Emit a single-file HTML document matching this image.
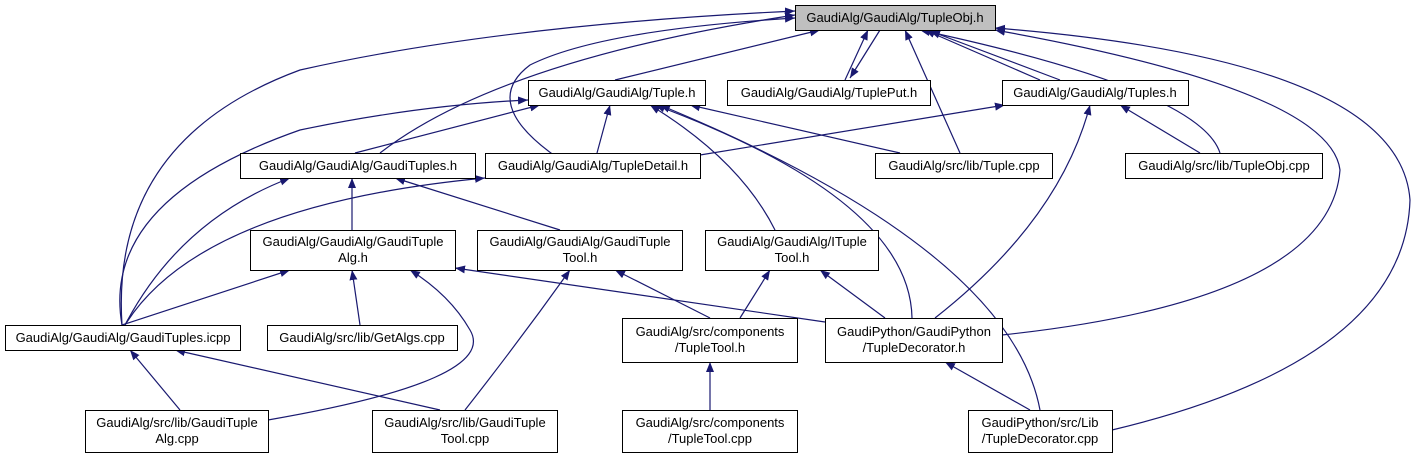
<!DOCTYPE html>
<html><head><meta charset="utf-8"><style>
html,body{margin:0;padding:0;background:#fff;}
svg{display:block;}
text{font-family:"Liberation Sans",sans-serif;font-size:13px;fill:#000;}
</style></head><body>
<svg width="1415" height="459" viewBox="0 0 1415 459" xmlns="http://www.w3.org/2000/svg">
<defs><marker id="a" viewBox="0 0 10 10" refX="10" refY="5" markerWidth="10" markerHeight="10" markerUnits="userSpaceOnUse" orient="auto"><path d="M0,1 L10,5 L0,9 z" fill="#191970"/></marker></defs>
<g fill="none" stroke="#191970" stroke-width="1.2" marker-end="url(#a)">
<path d="M615,80 L820,30"/>
<path d="M845,80 L868,30"/>
<path d="M880,30 L850,78"/>
<path d="M1040,80 L925,30"/>
<path d="M1060,80 L930,31"/>
<path d="M380,153 Q500,60 795,15"/>
<path d="M590,178 Q470,110 530,65 Q600,30 795,18"/>
<path d="M122,325 Q110,140 300,70 Q500,25 795,11"/>
<path d="M960,153 L905,30"/>
<path d="M1220,153 Q1200,90 920,30"/>
<path d="M1002,335 Q1330,300 1340,170 Q1330,90 995,30"/>
<path d="M1112,430 Q1405,360 1410,200 Q1400,60 995,28"/>
<path d="M355,153 L540,105"/>
<path d="M597,153 L610,105"/>
<path d="M122,325 Q100,200 300,130 Q420,105 528,100"/>
<path d="M900,153 L690,105"/>
<path d="M775,230 Q740,160 650,105"/>
<path d="M912,318 Q910,200 655,105"/>
<path d="M1040,410 Q1010,250 660,105"/>
<path d="M700,155 L1005,105"/>
<path d="M1200,153 L1120,105"/>
<path d="M935,318 Q1060,220 1090,105"/>
<path d="M352,230 L352,178"/>
<path d="M560,230 L395,178"/>
<path d="M125,325 Q180,220 290,178"/>
<path d="M125,325 Q200,205 485,178"/>
<path d="M122,325 L290,270"/>
<path d="M360,325 L352,270"/>
<path d="M268,420 Q500,380 470,330 Q450,295 410,270"/>
<path d="M825,322 L455,268"/>
<path d="M465,410 Q520,340 570,270"/>
<path d="M710,318 L615,270"/>
<path d="M740,318 L770,270"/>
<path d="M885,318 L820,270"/>
<path d="M180,410 L130,350"/>
<path d="M440,410 L175,350"/>
<path d="M710,410 L710,362"/>
<path d="M1030,410 L945,362"/>
</g>
<g stroke="#000" stroke-width="1" fill="#fff">
<rect x="795.5" y="5.5" width="200" height="25" fill="#bfbfbf"/>
<rect x="528.5" y="80.5" width="177" height="25"/>
<rect x="727.5" y="80.5" width="203" height="25"/>
<rect x="1002.5" y="80.5" width="186" height="25"/>
<rect x="240.5" y="153.5" width="235" height="25"/>
<rect x="485.5" y="153.5" width="215" height="25"/>
<rect x="875.5" y="153.5" width="177" height="25"/>
<rect x="1125.5" y="153.5" width="197" height="25"/>
<rect x="250.5" y="230.5" width="205" height="40"/>
<rect x="477.5" y="230.5" width="205" height="40"/>
<rect x="705.5" y="230.5" width="173" height="40"/>
<rect x="5.5" y="325.5" width="235" height="25"/>
<rect x="267.5" y="325.5" width="190" height="25"/>
<rect x="622.5" y="318.5" width="175" height="44"/>
<rect x="825.5" y="318.5" width="177" height="44"/>
<rect x="85.5" y="410.5" width="183" height="42"/>
<rect x="372.5" y="410.5" width="185" height="42"/>
<rect x="622.5" y="410.5" width="175" height="42"/>
<rect x="968.5" y="410.5" width="144" height="42"/>
</g>
<g text-anchor="middle">
<text x="895" y="22">GaudiAlg/GaudiAlg/TupleObj.h</text>
<text x="617" y="97">GaudiAlg/GaudiAlg/Tuple.h</text>
<text x="829" y="97">GaudiAlg/GaudiAlg/TuplePut.h</text>
<text x="1095" y="97">GaudiAlg/GaudiAlg/Tuples.h</text>
<text x="358" y="170">GaudiAlg/GaudiAlg/GaudiTuples.h</text>
<text x="593" y="170">GaudiAlg/GaudiAlg/TupleDetail.h</text>
<text x="964" y="170">GaudiAlg/src/lib/Tuple.cpp</text>
<text x="1224" y="170">GaudiAlg/src/lib/TupleObj.cpp</text>
<text x="353" y="246">GaudiAlg/GaudiAlg/GaudiTuple</text><text x="353" y="262">Alg.h</text>
<text x="580" y="246">GaudiAlg/GaudiAlg/GaudiTuple</text><text x="580" y="262">Tool.h</text>
<text x="792" y="246">GaudiAlg/GaudiAlg/ITuple</text><text x="792" y="262">Tool.h</text>
<text x="123" y="342">GaudiAlg/GaudiAlg/GaudiTuples.icpp</text>
<text x="362" y="342">GaudiAlg/src/lib/GetAlgs.cpp</text>
<text x="710" y="336">GaudiAlg/src/components</text><text x="710" y="352">/TupleTool.h</text>
<text x="914" y="336">GaudiPython/GaudiPython</text><text x="914" y="352">/TupleDecorator.h</text>
<text x="177" y="427">GaudiAlg/src/lib/GaudiTuple</text><text x="177" y="443">Alg.cpp</text>
<text x="465" y="427">GaudiAlg/src/lib/GaudiTuple</text><text x="465" y="443">Tool.cpp</text>
<text x="710" y="427">GaudiAlg/src/components</text><text x="710" y="443">/TupleTool.cpp</text>
<text x="1040" y="427">GaudiPython/src/Lib</text><text x="1040" y="443">/TupleDecorator.cpp</text>
</g>
</svg>
</body></html>
